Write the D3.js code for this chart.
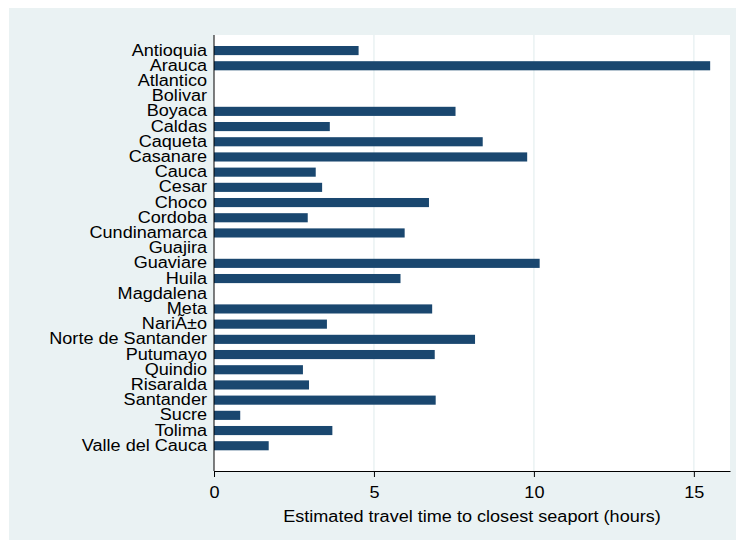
<!DOCTYPE html>
<html>
<head>
<meta charset="utf-8">
<script src="https://cdn.jsdelivr.net/npm/d3@7"></script>
<style>
  html, body { margin: 0; padding: 0; background: #ffffff; }
  svg { display: block; font-family: "Liberation Sans", Arial, sans-serif; }
</style>
</head>
<body>
<svg id="chart" width="736" height="542"></svg>
<script>
// Departments and estimated travel time to the closest seaport (hours)
const departments = [
  "Antioquia", "Arauca", "Atlantico", "Bolivar", "Boyaca", "Caldas", "Caqueta",
  "Casanare", "Cauca", "Cesar", "Choco", "Cordoba", "Cundinamarca", "Guajira",
  "Guaviare", "Huila", "Magdalena", "Meta", "NariÃ±o", "Norte de Santander",
  "Putumayo", "Quindio", "Risaralda", "Santander", "Sucre", "Tolima", "Valle del Cauca"
];
const travelHours = [
  4.52, 15.51, 0, 0, 7.55, 3.62, 8.40,
  9.79, 3.18, 3.38, 6.72, 2.93, 5.96, 0,
  10.18, 5.83, 0, 6.82, 3.53, 8.16,
  6.90, 2.78, 2.97, 6.93, 0.82, 3.70, 1.71
];
const xTicks = [0, 5, 10, 15];
const xTitle = "Estimated travel time to closest seaport (hours)";

// Text is drawn slightly wide, like the exported graph's lettering
const FONT_SIZE = 16;
const STRETCH = 1.13;

const svg = d3.select("#chart");

// Outer graph region
svg.append("rect")
  .attr("x", 9).attr("y", 8).attr("width", 727).attr("height", 532)
  .attr("fill", "#eaf2f3");

const plot = { left: 214, right: 730, top: 35, bottom: 471 };

svg.append("rect")
  .attr("x", plot.left).attr("y", plot.top)
  .attr("width", plot.right - plot.left).attr("height", plot.bottom - plot.top)
  .attr("fill", "#ffffff");

const x = d3.scaleLinear().domain([0, 16.13]).range([plot.left, plot.right]);

const y = d3.scaleBand()
  .domain(departments)
  .range([plot.top + 11, plot.bottom - 20.7])
  .paddingInner(0.4)
  .paddingOuter(0);

// Vertical gridlines
svg.append("g")
  .selectAll("line")
  .data(xTicks.filter(t => t > 0))
  .join("line")
  .attr("x1", d => x(d)).attr("x2", d => x(d))
  .attr("y1", plot.top).attr("y2", plot.bottom)
  .attr("stroke", "#eaf2f3").attr("stroke-width", 1.5);

// Bars
svg.append("g")
  .selectAll("rect")
  .data(departments.map((d, i) => ({ name: d, value: travelHours[i] })))
  .join("rect")
  .attr("x", x(0))
  .attr("y", d => y(d.name))
  .attr("width", d => x(d.value) - x(0))
  .attr("height", y.bandwidth())
  .attr("fill", "#1a476f");

function styleText(sel) {
  sel.attr("font-size", FONT_SIZE)
    .attr("font-family", "'Liberation Sans', Arial, sans-serif")
    .attr("fill", "#000");
}

// Category labels
const labelGap = 7;
const yAxis = d3.axisLeft(y).tickSize(0).tickPadding(labelGap);
const gy = svg.append("g")
  .attr("transform", `translate(${plot.left},0)`)
  .call(yAxis);
gy.select(".domain").remove();
gy.selectAll("text")
  .call(styleText)
  .attr("x", -labelGap / STRETCH)
  .attr("transform", `scale(${STRETCH},1)`);
svg.append("line")
  .attr("x1", plot.left).attr("x2", plot.left)
  .attr("y1", plot.top).attr("y2", plot.bottom)
  .attr("stroke", "#000").attr("stroke-width", 1);

// Bottom axis
const xAxis = d3.axisBottom(x).tickValues(xTicks).tickSize(6).tickPadding(10).tickSizeOuter(0);
const gx = svg.append("g")
  .attr("transform", `translate(0,${plot.bottom})`)
  .call(xAxis);
gx.select(".domain").attr("stroke", "#000");
gx.selectAll(".tick line").attr("stroke", "#000");
gx.selectAll("text")
  .call(styleText)
  .attr("transform", `scale(${STRETCH},1)`);

svg.append("text")
  .attr("transform", `translate(${(plot.left + plot.right) / 2},522) scale(${STRETCH},1)`)
  .attr("text-anchor", "middle")
  .call(styleText)
  .text(xTitle);
</script>
</body>
</html>
